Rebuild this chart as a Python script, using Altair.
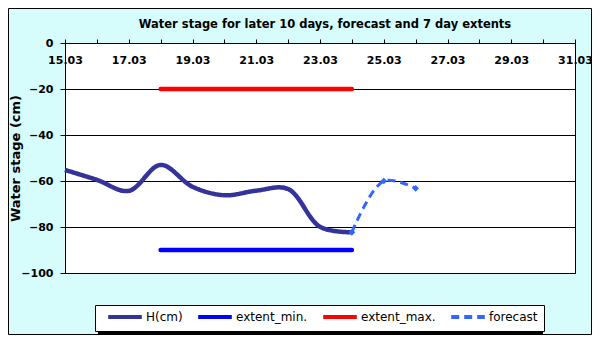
import altair as alt
import pandas as pd

# ---- data ----
h_days = [15, 16, 17, 18, 19, 20, 21, 22, 23, 24]
h_vals = [-55.2, -59.5, -64.3, -53.0, -62.5, -66.2, -64.2, -63.5, -79.9, -82.3]

fc_days = [24, 25, 26]
fc_vals = [-82.3, -60.0, -63.2]

ext_days = [18, 24]
ext_min = [-90, -90]
ext_max = [-20, -20]

series_names = ["H(cm)", "extent_min.", "extent_max.", "forecast"]
series_colors = ["#333399", "#0000ff", "#ff0000", "#3366ff"]
series_dash = [[1, 0], [1, 0], [1, 0], [8, 5]]

tick_days = list(range(15, 32))

FONT = "DejaVu Sans"

rows = []
for d, v in zip(h_days, h_vals):
    rows.append({"day": d, "value": v, "series": "H(cm)"})
for d, v in zip(ext_days, ext_min):
    rows.append({"day": d, "value": v, "series": "extent_min."})
for d, v in zip(ext_days, ext_max):
    rows.append({"day": d, "value": v, "series": "extent_max."})
for d, v in zip(fc_days, fc_vals):
    rows.append({"day": d, "value": v, "series": "forecast"})
df = pd.DataFrame(rows)

x_enc = alt.X(
    "day:Q",
    scale=alt.Scale(domain=[15, 31], nice=False, zero=False),
    axis=alt.Axis(
        orient="top",
        values=tick_days,
        labelExpr="datum.value % 2 == 1 ? (datum.value + '.03') : ''",
        title=None,
        grid=False,
        domain=False,
        tickColor="black",
        tickSize=4,
        labelPadding=-24,
        labelBaseline="alphabetic",
        labelFont=FONT,
        labelFontSize=11,
        labelFontWeight="bold",
        labelColor="black",
        labelFlush=False,
        labelOverlap=False,
    ),
)

y_enc = alt.Y(
    "value:Q",
    scale=alt.Scale(domain=[-100, 0], nice=False, zero=False),
    axis=alt.Axis(
        values=[0, -20, -40, -60, -80, -100],
        title="Water stage (cm)",
        titleFont=FONT,
        titleFontSize=13,
        titleFontWeight="bold",
        titleColor="black",
        titleX=-50,
        titleY=115,
        titleAngle=270,
        titleBaseline="middle",
        titleAlign="center",
        grid=True,
        gridColor="black",
        gridOpacity=1,
        gridWidth=1,
        domain=False,
        tickColor="black",
        tickSize=5,
        labelPadding=7,
        labelFont=FONT,
        labelFontSize=11,
        labelFontWeight="bold",
        labelColor="black",
        labelFlush=False,
        labelOverlap=False,
    ),
)

color_enc = alt.Color(
    "series:N",
    scale=alt.Scale(domain=series_names, range=series_colors),
    legend=alt.Legend(
        title=None,
        orient="none",
        direction="horizontal",
        legendX=30,
        legendY=262,
        symbolType="M-5.6,0H5.6",
        symbolSize=36,
        symbolOffset=18,
        symbolStrokeWidth=4,
        labelFont=FONT,
        labelFontSize=12,
        labelColor="black",
        labelOffset=15,
        columnPadding=7,
        padding=6,
        strokeColor="black",
        fillColor="white",
    ),
)
dash_enc = alt.StrokeDash(
    "series:N",
    scale=alt.Scale(domain=series_names, range=series_dash),
    legend=alt.Legend(title=None),
)

base = alt.Chart(df)

h_line = base.transform_filter(alt.datum.series == "H(cm)").mark_line(
    interpolate="catmull-rom", strokeWidth=4.5
).encode(x=x_enc, y=y_enc, color=color_enc, strokeDash=dash_enc)

ext_lines = base.transform_filter(
    (alt.datum.series == "extent_min.") | (alt.datum.series == "extent_max.")
).mark_line(strokeWidth=4.5, strokeCap="round").encode(
    x=x_enc, y=y_enc, color=color_enc, strokeDash=dash_enc, detail="series:N"
)

fc_line = base.transform_filter(alt.datum.series == "forecast").mark_line(
    interpolate="catmull-rom", strokeWidth=3
).encode(x=x_enc, y=y_enc, color=color_enc, strokeDash=dash_enc)

fc_pts = base.transform_filter(alt.datum.series == "forecast").mark_point(
    shape="diamond", filled=True, size=45, opacity=1, color="#3366ff"
).encode(x=x_enc, y=y_enc)

frame_df = pd.DataFrame({"k": [0]})
frame = alt.Chart(frame_df).mark_rect(
    filled=False, stroke="black", strokeWidth=1, clip=False
).encode(
    x=alt.value(-56.5), x2=alt.value(526.5), y=alt.value(-34.5), y2=alt.value(291.5)
)

# drop shadow behind the legend box
shadow = alt.Chart(frame_df).mark_rect(fill="black", clip=False).encode(
    x=alt.value(33), x2=alt.value(478), y=alt.value(265), y2=alt.value(292)
)

chart = alt.layer(frame, shadow, ext_lines, h_line, fc_line, fc_pts).properties(
    width=510,
    height=230,
    padding={"left": 57, "top": 35, "right": 17, "bottom": 62},
    autosize=alt.AutoSizeParams(type="none"),
    background="#d6fcfc",
    title=alt.TitleParams(
        "Water stage for later 10 days, forecast and 7 day extents",
        font=FONT,
        fontSize=11.5,
        fontWeight="bold",
        color="black",
        anchor="middle",
        frame="group",
        baseline="alphabetic",
        offset=-31,
        dx=5,
    ),
).configure_view(
    fill="white", stroke="black", strokeWidth=1
)

chart.save("out.html", embed_options={"renderer": "svg", "actions": False})
